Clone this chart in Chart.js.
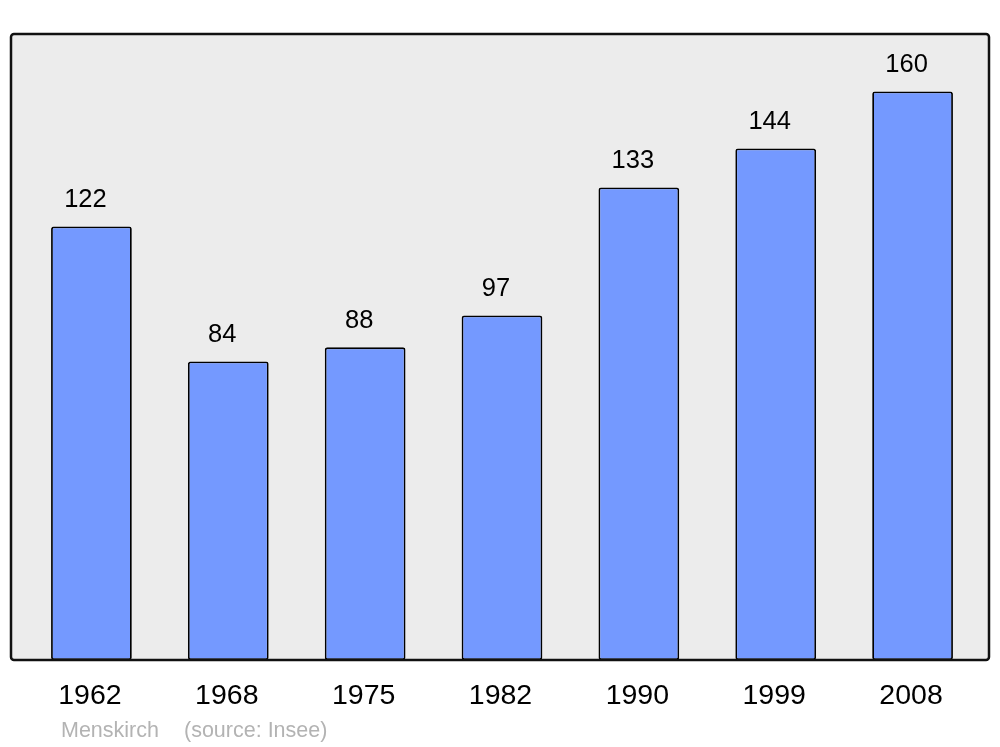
<!DOCTYPE html>
<html>
<head>
<meta charset="utf-8">
<script src="https://cdn.jsdelivr.net/npm/chart.js@4"></script>
<style>
  html, body { margin: 0; padding: 0; background: #fff; }
  #wrap { width: 1000px; height: 747px; position: relative; }
</style>
</head>
<body>
<div id="wrap"><canvas id="chart" width="1000" height="747"></canvas></div>
<script>
// données
const years = ['1962', '1968', '1975', '1982', '1990', '1999', '2008'];
const population = [122, 84, 88, 97, 133, 144, 160];
const footerName = 'Menskirch';
const footerSource = '(source: Insee)';

const FONT = '"Liberation Sans", Arial, sans-serif';

// cadre gris derrière les barres + bordure noire par-dessus
const framePlugin = {
  id: 'frame',
  beforeDatasetsDraw(chart) {
    const ctx = chart.ctx;
    ctx.save();
    ctx.beginPath();
    ctx.roundRect(11, 34, 978, 626, 3);
    ctx.fillStyle = '#ececec';
    ctx.fill();
    ctx.restore();
  },
  afterDatasetsDraw(chart) {
    const ctx = chart.ctx;
    const x = chart.scales.x, y = chart.scales.y;
    ctx.save();
    ctx.beginPath();
    ctx.roundRect(11, 34, 978, 626, 3);
    ctx.lineWidth = 2.5;
    ctx.strokeStyle = '#111';
    ctx.stroke();

    // valeurs au-dessus des barres
    ctx.fillStyle = '#000';
    ctx.textAlign = 'center';
    ctx.textBaseline = 'middle';
    ctx.font = '25.5px ' + FONT;
    population.forEach((v, i) => {
      ctx.fillText(String(v), x.getPixelForValue(i) - 6, y.getPixelForValue(v) - 26.5);
    });

    // années
    ctx.font = '28.5px ' + FONT;
    years.forEach((yr, i) => {
      ctx.fillText(yr, x.getPixelForValue(i) - 1.5, 696);
    });

    // source
    ctx.fillStyle = '#b3b3b3';
    ctx.textAlign = 'left';
    ctx.font = '21.5px ' + FONT;
    ctx.fillText(footerName, 61, 731);
    ctx.fillText(footerSource, 184, 731);
    ctx.restore();
  }
};

new Chart(document.getElementById('chart'), {
  type: 'bar',
  data: {
    labels: years,
    datasets: [{
      data: population,
      backgroundColor: '#7499ff',
      borderColor: '#000',
      borderWidth: 1.8,
      borderRadius: 2.5,
      borderSkipped: false,
      barPercentage: 0.59,
      categoryPercentage: 1
    }]
  },
  options: {
    responsive: false,
    animation: false,
    layout: { padding: { left: 23, right: 19, top: 34, bottom: 87 } },
    plugins: { legend: { display: false }, tooltip: { enabled: false } },
    scales: {
      x: { display: false },
      y: { display: false, min: 0, max: 176.2 }
    }
  },
  plugins: [framePlugin]
});
</script>
</body>
</html>
